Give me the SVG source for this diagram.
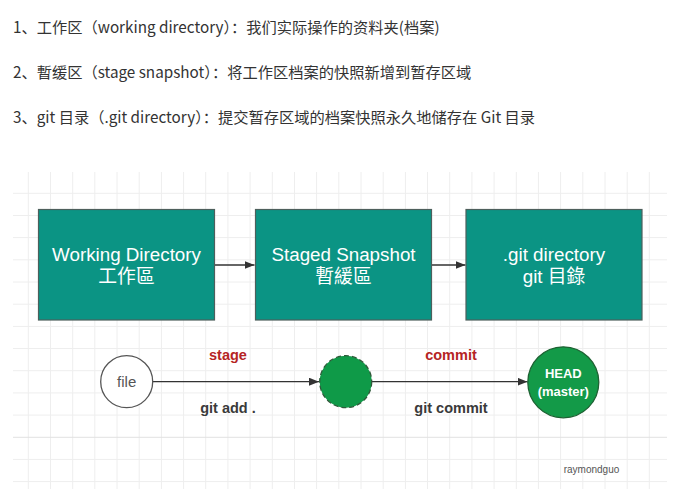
<svg xmlns="http://www.w3.org/2000/svg" width="680" height="497" viewBox="0 0 680 497">
  <style>
    .intro { font-family: "Noto Sans CJK SC", "Liberation Sans", sans-serif; font-size: 15.25px; fill: #333; }
    .box { fill: #0b9484; stroke: #4d5f5c; stroke-width: 1.2; }
    .boxtxt { font-family: "Liberation Sans", "Noto Sans CJK TC", sans-serif; font-size: 18.8px; fill: #ffffff; text-anchor: middle; }
    .edge { stroke: #333; stroke-width: 1.3; fill: none; }
    .lbl { font-family: "Liberation Sans", "Noto Sans CJK SC", sans-serif; font-weight: bold; font-size: 14.5px; text-anchor: middle; }
    .red { fill: #b52424; }
    .dark { fill: #3a3a3a; }
    .grid { stroke: #eeeeee; stroke-width: 1; fill: none; }
  </style>
  <defs>
    <marker id="arrow" viewBox="0 0 10 8" refX="10" refY="4" markerWidth="10" markerHeight="8" markerUnits="userSpaceOnUse" orient="auto">
      <path d="M0,0 L10,4 L0,8 Z" fill="#333"/>
    </marker>
  </defs>
  <rect width="680" height="497" fill="#ffffff"/>

  <g id="intro-text">
    <text class="intro" x="13" y="33">1、工作区（working directory）：我们实际操作的资料夹(档案)</text>
    <text class="intro" x="13" y="78">2、暫缓区（stage snapshot）：将工作区档案的快照新增到暂存区域</text>
    <text class="intro" x="13" y="123">3、git 目录（.git directory）：提交暂存区域的档案快照永久地储存在 Git 目录</text>
  </g>

  <g id="grid">
    <path class="grid" d="M28.3,172V489M50.5,172V489M72.7,172V489M94.8,172V489M117,172V489M139.2,172V489M161.4,172V489M183.6,172V489M205.7,172V489M227.9,172V489M250.1,172V489M272.3,172V489M294.5,172V489M316.6,172V489M338.8,172V489M361,172V489M383.2,172V489M405.4,172V489M427.5,172V489M449.7,172V489M471.9,172V489M494.1,172V489M516.3,172V489M538.4,172V489M560.6,172V489M582.8,172V489M605,172V489M627.2,172V489M649.3,172V489M13,193.3H667M13,215.5H667M13,237.6H667M13,259.8H667M13,282H667M13,304.2H667M13,326.4H667M13,348.5H667M13,370.7H667M13,392.9H667M13,415.1H667M13,459.4H667M13,481.6H667"/>
    <path d="M13,437.3H667" stroke="#e2e2e2" stroke-width="1" fill="none"/>
  </g>

  <g id="connectors">
    <line class="edge" x1="214.5" y1="265" x2="254.5" y2="265" marker-end="url(#arrow)"/>
    <line class="edge" x1="431.5" y1="265" x2="465.5" y2="265" marker-end="url(#arrow)"/>
    <line class="edge" x1="153" y1="381.7" x2="319" y2="381.7" marker-end="url(#arrow)"/>
    <line class="edge" x1="372" y1="381.7" x2="527.5" y2="381.7" marker-end="url(#arrow)"/>
    <text class="lbl red" x="228" y="360">stage</text>
    <text class="lbl dark" x="228" y="413">git add .</text>
    <text class="lbl red" x="451" y="360">commit</text>
    <text class="lbl dark" x="451" y="413">git commit</text>
  </g>

  <g id="working-directory">
    <rect class="box" x="38.5" y="209.5" width="176" height="110.5"/>
    <text class="boxtxt" x="126.5" y="261">Working Directory</text>
    <text class="boxtxt" x="126.5" y="283">工作區</text>
  </g>

  <g id="staged-snapshot">
    <rect class="box" x="255.5" y="209.5" width="176" height="110.5"/>
    <text class="boxtxt" x="343.5" y="261">Staged Snapshot</text>
    <text class="boxtxt" x="343.5" y="283">暫緩區</text>
  </g>

  <g id="git-directory">
    <rect class="box" x="466" y="209.5" width="176" height="110.5"/>
    <text class="boxtxt" x="554" y="261">.git directory</text>
    <text class="boxtxt" x="554" y="283">git 目錄</text>
  </g>

  <g id="file">
    <circle cx="126.7" cy="381.7" r="26" fill="#ffffff" stroke="#555" stroke-width="1.3"/>
    <text x="126.7" y="386.5" font-family="Liberation Sans, sans-serif" font-size="15" fill="#555" text-anchor="middle">file</text>
  </g>

  <g id="staged-file">
    <circle cx="345.7" cy="381.7" r="26" fill="#0f9a48" stroke="#2f5a3a" stroke-width="1.3" stroke-dasharray="5 3"/>
  </g>

  <g id="head">
    <circle cx="563.3" cy="382.3" r="35.5" fill="#139a48" stroke="#1e6233" stroke-width="1.3"/>
    <text x="563.3" y="377.5" font-family="Liberation Sans, sans-serif" font-size="13" font-weight="bold" fill="#ffffff" text-anchor="middle">HEAD</text>
    <text x="563.3" y="396" font-family="Liberation Sans, sans-serif" font-size="13" font-weight="bold" fill="#ffffff" text-anchor="middle">(master)</text>
  </g>

  <g id="credit">
    <text x="591.5" y="472.5" font-family="Liberation Sans, sans-serif" font-size="10" fill="#555" text-anchor="middle">raymondguo</text>
  </g>
</svg>
